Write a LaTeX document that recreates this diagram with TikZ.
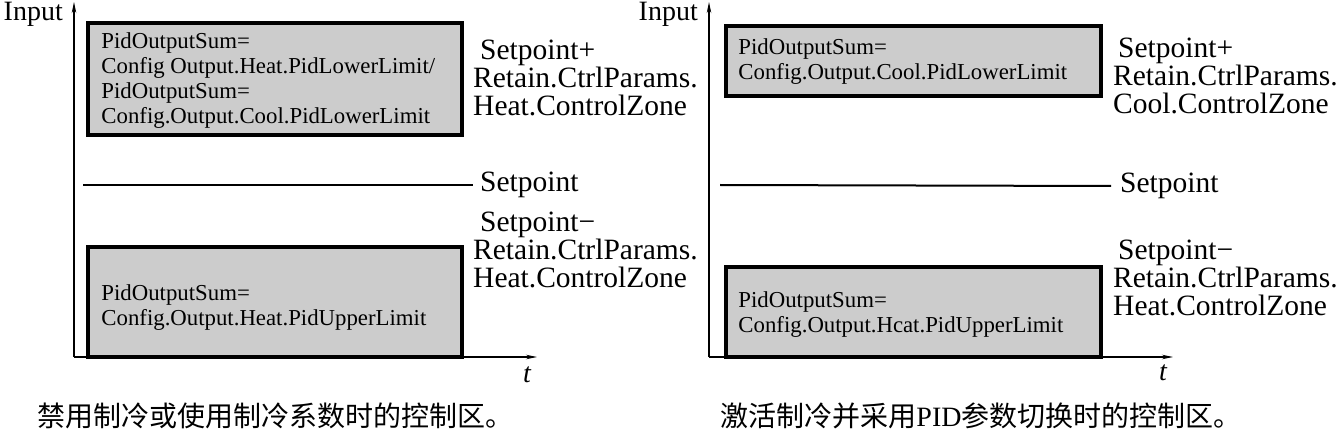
\documentclass[tikz,border=0pt]{standalone}
\usepackage{fontspec}
\setmainfont{Liberation Serif}
\newfontfamily\cjk{Noto Sans CJK SC}
\usetikzlibrary{arrows.meta}
\definecolor{zonegray}{RGB}{204,204,204}
\begin{document}
\begin{tikzpicture}[x=1pt,y=-1pt,
  zone/.style={draw=black, line width=3.5pt, fill=zonegray, inner sep=0pt},
  ztext/.style={align=left, inner sep=0pt, anchor=west, font=\fontsize{22.8}{25}\selectfont},
  lbl/.style={font=\fontsize{29.5}{28}\selectfont, align=left, inner sep=0pt, anchor=west},
  axis/.style={line width=1.3pt, -{Stealth[length=11pt,width=4.5pt]}},
  spline/.style={line width=2pt},
  axlbl/.style={font=\fontsize{28}{28}\selectfont, inner sep=0pt},
  caption/.style={font=\fontsize{28}{30}\selectfont, inner sep=0pt}]
\useasboundingbox (0,0) rectangle (1337,430);

% ---------- left panel ----------
\coordinate (o1) at (74,357);
\coordinate (y1) at (74,2);
\coordinate (x1) at (537,357);
\draw[axis] (o1) -- (y1);
\draw[axis] (o1) -- (x1);
\node[axlbl, anchor=east] (in1) at (63,14) {Input};
\node[axlbl] (t1) at (527,375) {\itshape t};

\node[zone, minimum width=374pt, minimum height=112pt] (bA) at (275,79) {};
\node[ztext] (tA) at ([xshift=15pt,yshift=-2pt]bA.west)
  {PidOutputSum=\\Config Output.Heat.PidLowerLimit/\\PidOutputSum=\\Config.Output.Cool.PidLowerLimit};
\node[zone, minimum width=374pt, minimum height=110pt] (bB) at (275,302) {};
\node[ztext] (tB) at ([xshift=15pt,yshift=-6pt]bB.west)
  {PidOutputSum=\\Config.Output.Heat.PidUpperLimit};

\node[lbl] (spA) at (480,185) {Setpoint};
\coordinate (sA) at (83,185);
\draw[spline] (sA) -- ([xshift=-7pt]spA.west);

\node[lbl] (lA) at (473,78) {\hspace*{7pt}Setpoint+\\Retain.CtrlParams.\\Heat.ControlZone};
\node[lbl] (lB) at (473,250) {\hspace*{7pt}Setpoint−\\Retain.CtrlParams.\\Heat.ControlZone};

\node[caption] (cA) at (275,416) {\cjk 禁用制冷或使用制冷系数时的控制区。};

% ---------- right panel ----------
\coordinate (o2) at (709,357);
\coordinate (y2) at (709,2);
\coordinate (x2) at (1173,357);
\draw[axis] (o2) -- (y2);
\draw[axis] (o2) -- (x2);
\node[axlbl, anchor=east] (in2) at (698,14) {Input};
\node[axlbl] (t2) at (1163,373) {\itshape t};

\node[zone, minimum width=375pt, minimum height=70pt] (bC) at (913.5,61) {};
\node[ztext] (tC) at ([xshift=14pt,yshift=-1pt]bC.west)
  {PidOutputSum=\\Config.Output.Cool.PidLowerLimit};
\node[zone, minimum width=375pt, minimum height=90pt] (bD) at (913.5,312) {};
\node[ztext] (tD) at ([xshift=14pt,yshift=-3pt]bD.west)
  {PidOutputSum=\\Config.Output.Hcat.PidUpperLimit};

\node[lbl] (spB) at (1120,186) {Setpoint};
\coordinate (sB) at (720,185);
\draw[spline] (sB) -- ([xshift=-9pt]spB.west);

\node[lbl] (lC) at (1113,76) {\hspace*{5pt}Setpoint+\\Retain.CtrlParams.\\Cool.ControlZone};
\node[lbl] (lD) at (1113,278) {\hspace*{5pt}Setpoint−\\Retain.CtrlParams.\\Heat.ControlZone};

\node[caption] (cB) at (981,416) {{\cjk 激活制冷并采用}PID{\cjk 参数切换时的控制区。}};
\end{tikzpicture}
\end{document}
